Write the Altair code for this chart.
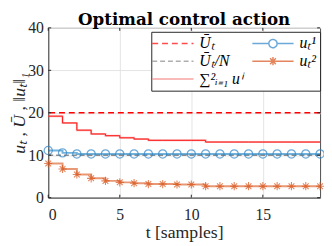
import altair as alt
import pandas as pd

# ---- data ----
t = [0, 1, 2, 3, 4, 5, 6, 7, 8, 9, 10, 11, 12, 13, 14, 15, 16, 17, 18, 19]
u1 = [11.1, 10.55, 10.3, 10.3, 10.3, 10.3, 10.3, 10.3, 10.3, 10.3,
      10.3, 10.3, 10.3, 10.3, 10.3, 10.3, 10.3, 10.3, 10.3, 10.3]
u2 = [8.05, 6.75, 5.45, 4.55, 3.95, 3.6, 3.4, 3.2, 3.2, 3.1,
      3.1, 2.7, 2.7, 2.7, 2.7, 2.7, 2.7, 2.7, 2.7, 2.7]
usum = [19.2, 17.6, 15.9, 15.0, 14.6, 14.1, 13.8, 13.5, 13.5, 13.5,
        13.5, 13.1, 13.1, 13.1, 13.1, 13.1, 13.1, 13.1, 13.1, 13.1]
ubar_levels = [20, 10]          # U_bar_t and U_bar_t / N
x_ticks = [0, 5, 10, 15]
y_ticks = [0, 10, 20, 30, 40]

# legend (column-major order for a 2-column legend)
leg_names = ["Ū\u209c", "Ū\u209c/N", "∑\u00b2\u1d62\u208c\u2081 u\u2071", "u\u209c\u00b9", "u\u209c\u00b2"]
leg_colors = ["#FF0000", "#8C8C8C", "#F47C7C", "#2F85C8", "#D95319"]
leg_dash = [[6, 4], [5, 3], [1, 0], [1, 0], [1, 0]]
leg_shapes = [
    "M-3,0H3",
    "M-3,0H3",
    "M-3,0H3",
    "M-3,0H-0.6M0.6,0H3M0.6,0A0.6,0.6 0 1 1 -0.6,0A0.6,0.6 0 1 1 0.6,0",
    "M-3,0H3M0,-0.6V0.6M-0.42,-0.42L0.42,0.42M-0.42,0.42L0.42,-0.42",
]

FONT = "Liberation Serif"
ASTERISK = "M-1,0H1M0,-1V1M-0.7,-0.7L0.7,0.7M-0.7,0.7L0.7,-0.7"
W, H = 277, 173
TK = 3  # inward tick length

df = pd.DataFrame({"t": t, "u1": u1, "u2": u2, "usum": usum})
rules = pd.DataFrame({"level": ubar_levels})
leg_df = pd.DataFrame({"series": leg_names})
xt_df = pd.DataFrame({"xt": x_ticks})
yt_df = pd.DataFrame({"yt": y_ticks})

xscale = alt.Scale(domain=[0, 19], nice=False)
yscale = alt.Scale(domain=[0, 40], nice=False)


def xenc(field):
    return alt.X(f"{field}:Q", scale=xscale,
                 axis=alt.Axis(values=x_ticks, title="t [samples]"))


def yenc(field):
    return alt.Y(f"{field}:Q", scale=yscale,
                 axis=alt.Axis(values=y_ticks, title="uₜ , Ū , ‖uₜ‖₁",
                               titleX=-20, titleBaseline="bottom"))


base = alt.Chart(df)

rule_ubar = alt.Chart(rules).transform_filter("datum.level == 20").mark_rule(
    color="#FF0000", strokeDash=[6, 4], strokeWidth=1.5
).encode(y=yenc("level"))

rule_ubarn = alt.Chart(rules).transform_filter("datum.level == 10").mark_rule(
    color="#8C8C8C", strokeDash=[5, 3], strokeWidth=1.5
).encode(y=yenc("level"))

sum_light = base.mark_line(interpolate="step-after", color="#F47C7C", strokeWidth=2, opacity=0.6).encode(
    x=xenc("t"), y=yenc("usum"))
sum_line = base.mark_line(interpolate="step-after", color="#FF1A1A", strokeWidth=1).encode(
    x=xenc("t"), y=yenc("usum"))

u1_line = base.mark_line(interpolate="step-after", color="#0072BD", strokeWidth=2, opacity=0.55).encode(
    x=xenc("t"), y=yenc("u1"))
u1_pts = base.mark_point(shape="circle", size=70, filled=False, color="#2F85C8", strokeWidth=1.2).encode(
    x=xenc("t"), y=yenc("u1"))

u2_line = base.mark_line(interpolate="step-after", color="#D95319", strokeWidth=2, opacity=0.6).encode(
    x=xenc("t"), y=yenc("u2"))
u2_pts = base.mark_point(shape=ASTERISK, size=70, filled=False, color="#D95319", strokeWidth=1.1).encode(
    x=xenc("t"), y=yenc("u2"))

# inward tick marks on all four sides (MATLAB box style)
tick_style = dict(color="#262626", strokeWidth=1)
xt_bot = alt.Chart(xt_df).mark_rule(**tick_style).encode(
    x=xenc("xt"), y=alt.value(H), y2=alt.value(H - TK))
xt_top = alt.Chart(xt_df).mark_rule(**tick_style).encode(
    x=xenc("xt"), y=alt.value(0), y2=alt.value(TK))
yt_left = alt.Chart(yt_df).mark_rule(**tick_style).encode(
    y=yenc("yt"), x=alt.value(0), x2=alt.value(TK))
yt_right = alt.Chart(yt_df).mark_rule(**tick_style).encode(
    y=yenc("yt"), x=alt.value(W), x2=alt.value(W - TK))

legend_layer = alt.Chart(leg_df).mark_point(clip=True, filled=False, size=196, strokeWidth=1.5).encode(
    x=alt.value(-300), y=alt.value(-300),
    color=alt.Color("series:N", scale=alt.Scale(domain=leg_names, range=leg_colors),
                    legend=alt.Legend(orient="none", legendX=105, legendY=4, columns=2, title=None,
                                      symbolSize=196, symbolStrokeWidth=1.5,
                                      symbolOffset=10, labelOffset=19,
                                      labelFont=FONT, labelFontSize=16, labelFontStyle="italic",
                                      labelColor="#000000",
                                      padding=4, strokeColor="#262626", fillColor="white",
                                      rowPadding=2, columnPadding=6)),
    shape=alt.Shape("series:N", scale=alt.Scale(domain=leg_names, range=leg_shapes)),
    strokeDash=alt.StrokeDash("series:N", scale=alt.Scale(domain=leg_names, range=leg_dash)),
)

chart = alt.layer(
    rule_ubarn, rule_ubar, sum_light, sum_line, u1_line, u1_pts, u2_line, u2_pts,
    xt_bot, xt_top, yt_left, yt_right, legend_layer
).properties(
    width=W, height=H,
    title=alt.TitleParams("Optimal control action", font="DejaVu Serif", fontSize=17, fontWeight="bold",
                          offset=-9, anchor="middle", color="#000000", frame="group"),
    autosize=alt.AutoSizeParams(type="none"),
    padding={"left": 41, "top": 18, "right": 4, "bottom": 46},
).configure_view(
    stroke="#4D4D4D", strokeWidth=1
).configure_axis(
    labelFont=FONT, labelFontSize=16, labelColor="#262626",
    titleFont=FONT, titleFontSize=18, titleColor="#262626", titleFontWeight="normal",
    domainColor="#4D4D4D", domainWidth=1,
    gridColor="#E3E3E3", gridWidth=1,
    tickSize=0,
).configure_axisY(
    titleFontStyle="italic", labelPadding=5,
).configure_axisX(
    titlePadding=2, labelPadding=9,
)

chart.save("out.html", embed_options={"renderer": "svg", "actions": False})
